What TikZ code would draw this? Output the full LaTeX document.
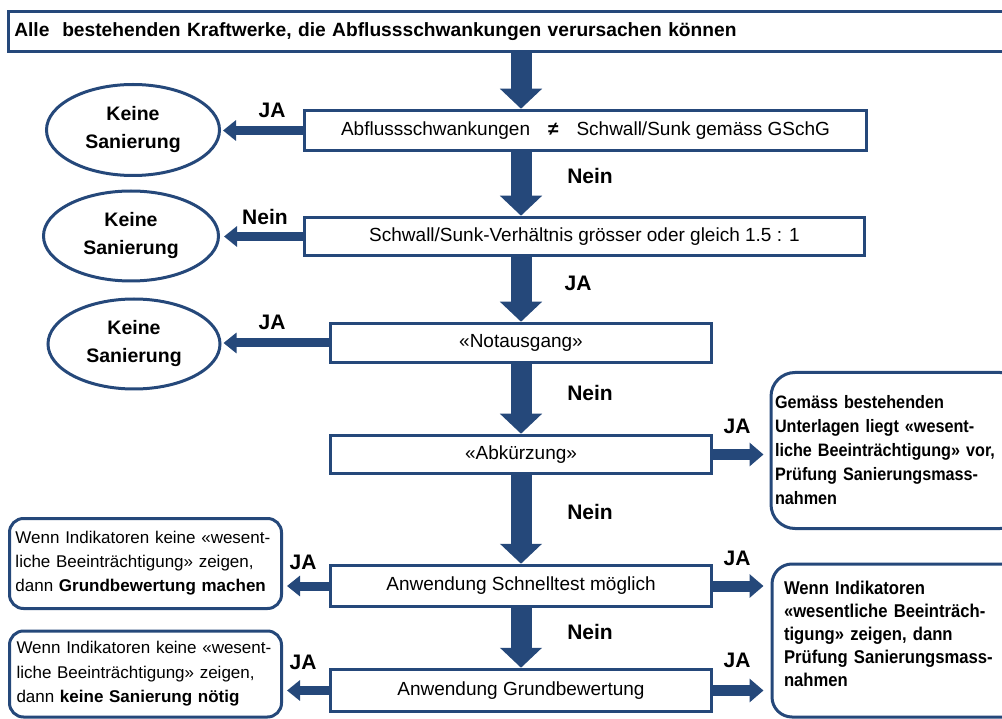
\documentclass[tikz,border=0pt]{standalone}
\usepackage{fontspec}
\setmainfont{Liberation Sans}
\usetikzlibrary{arrows.meta,shapes.geometric}
\definecolor{dblue}{RGB}{37,72,122}
\begin{document}
\begin{tikzpicture}[x=1pt,y=-1pt,
  box/.style={draw=dblue,line width=3.5pt,rectangle,inner sep=0pt,font=\fontsize{19}{23}\selectfont},
  oval/.style={draw=dblue,line width=3pt,ellipse,inner sep=0pt,align=center,font=\fontsize{19.5}{28}\selectfont\bfseries},
  rbox/.style={draw=dblue,line width=3pt,rectangle,inner sep=0pt,align=left},
  lbl/.style={font=\fontsize{21}{24}\selectfont\bfseries},
  vflow/.style={dblue,line width=21pt,-{Triangle[length=20pt,width=41pt]}},
  lflow/.style={dblue,line width=9pt,-{Triangle[length=13pt,width=20pt]}},
  rflow/.style={dblue,line width=11pt,-{Triangle[length=14pt,width=23pt]}}]
\useasboundingbox (0,0) rectangle (1002,719);
\clip (0,0) rectangle (1002,719);
% main chain
\node[box,anchor=west,minimum height=40pt,text width=990pt,inner xsep=6pt,align=left,font=\fontsize{19.2}{23}\selectfont\bfseries] (top) at (6.5,31.5) {Alle\ \ bestehenden Kraftwerke, die Abflussschwankungen verursachen können};
\node[box,minimum width=562pt,minimum height=40pt] (b2) at (585.5,130.5) {Abflussschwankungen\hspace{18pt}\textbf{≠}\hspace{18pt}Schwall/Sunk gemäss GSchG};
\node[box,minimum width=560pt,minimum height=38pt] (b3) at (584.5,236.5) {Schwall/Sunk-Verhältnis grösser oder gleich 1.5 : 1};
\node[box,minimum width=381pt,minimum height=39pt] (nota) at (521,343) {«Notausgang»};
\node[box,minimum width=381pt,minimum height=38pt] (abk) at (521,454.5) {«Abkürzung»};
\node[box,minimum width=381pt,minimum height=41pt] (sch) at (521,586) {Anwendung Schnelltest möglich};
\node[box,minimum width=381pt,minimum height=42pt] (grb) at (521,690.5) {Anwendung Grundbewertung};
% ovals
\node[oval,minimum width=173pt,minimum height=91pt] (e1) at (133,130) {Keine\\Sanierung};
\node[oval,minimum width=175pt,minimum height=90pt] (e2) at (131,236) {Keine\\Sanierung};
\node[oval,minimum width=172pt,minimum height=90pt] (e3) at (134,344) {Keine\\Sanierung};
% rounded boxes
\node[rbox,rounded corners=24pt,anchor=west,minimum height=156pt,text width=245pt,inner xsep=4pt,font=\fontsize{18}{24}\selectfont\bfseries\addfontfeatures{FakeStretch=0.9}] (r1) at (769.5,450.5) {Gemäss bestehenden\\Unterlagen liegt «wesent-\\liche Beeinträchtigung» vor,\\Prüfung Sanierungsmass-\\nahmen};
\node[rbox,rounded corners=20pt,anchor=north west,minimum height=153pt,text width=245pt,inner xsep=12pt,inner ysep=4pt,font=\fontsize{18.5}{23}\selectfont\bfseries\addfontfeatures{FakeStretch=0.9}] (r2) at (770.5,562.5) {Wenn Indikatoren\\«wesentliche Beeinträch-\\tigung» zeigen, dann\\Prüfung Sanierungsmass-\\nahmen\\[-9pt]\mbox{}};
\node[rbox,rounded corners=14pt,minimum width=272pt,minimum height=90pt,text width=260pt,inner xsep=6pt,font=\fontsize{17}{24}\selectfont] (l1) at (145.5,563.5) {Wenn Indikatoren keine «wesent-\\liche Beeinträchtigung» zeigen,\\dann \textbf{Grundbewertung machen}};
\node[rbox,rounded corners=14pt,minimum width=272pt,minimum height=86pt,text width=258pt,inner xsep=7pt,font=\fontsize{17}{24.5}\selectfont] (l2) at (145.5,674) {Wenn Indikatoren keine «wesent-\\liche Beeinträchtigung» zeigen,\\dann \textbf{keine Sanierung nötig}};
% vertical arrows
\draw[vflow] (top.south -| nota.north) -- (b2.north -| nota.north);
\draw[vflow] (b2.south -| nota.north) -- (b3.north -| nota.north);
\draw[vflow] (b3.south -| nota.north) -- (nota.north);
\draw[vflow] (nota.south) -- (abk.north);
\draw[vflow] (abk.south) -- (sch.north);
\draw[vflow] (sch.south) -- (grb.north);
% left arrows
\draw[lflow,shorten >=2pt] (b2.west) -- (b2.west -| e1.east);
\draw[lflow,shorten >=4pt] (b3.west) -- (b3.west -| e2.east);
\draw[lflow,shorten >=2pt] (nota.west) -- (nota.west -| e3.east);
\draw[lflow,shorten >=4pt] (sch.west) -- (sch.west -| l1.east);
\draw[lflow,shorten >=4pt] (grb.west) -- (grb.west -| l2.east);
% right arrows
\draw[rflow,shorten >=6pt] (abk.east) -- (abk.east -| r1.west);
\draw[rflow,shorten >=7pt] (sch.east) -- (sch.east -| r2.west);
\draw[rflow,shorten >=7pt] (grb.east) -- (grb.east -| r2.west);
% labels
\node[lbl] (t1) at (272,110) {JA};
\node[lbl] (t2) at (265,217) {Nein};
\node[lbl] (t3) at (272,322) {JA};
\node[lbl] (t4) at (590,176) {Nein};
\node[lbl] (t5) at (578,283) {JA};
\node[lbl] (t6) at (590,393) {Nein};
\node[lbl] (t7) at (590,512) {Nein};
\node[lbl] (t8) at (590,632) {Nein};
\node[lbl] (t9) at (737,426) {JA};
\node[lbl] (t10) at (737,558) {JA};
\node[lbl] (t11) at (737,660) {JA};
\node[lbl] (t12) at (303,562) {JA};
\node[lbl] (t13) at (303,662) {JA};
\end{tikzpicture}
\end{document}
